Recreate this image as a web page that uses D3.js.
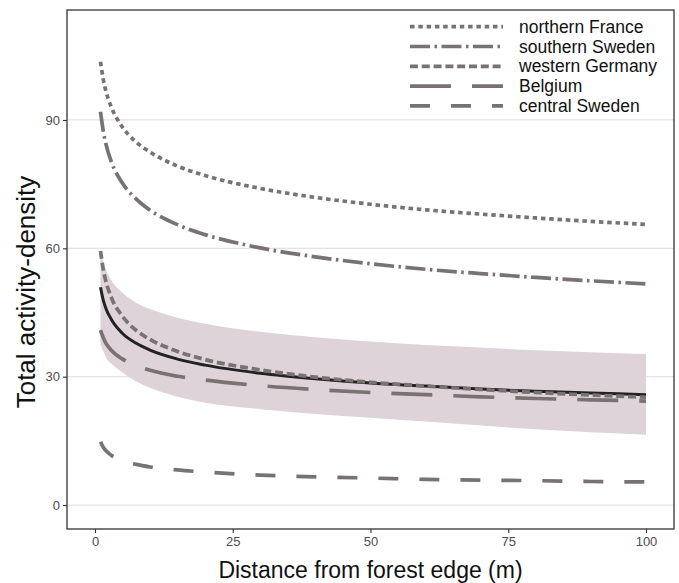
<!DOCTYPE html>
<html>
<head>
<meta charset="utf-8">
<script src="https://cdn.jsdelivr.net/npm/d3@7"></script>
<style>
  html, body { margin: 0; padding: 0; background: #fff; }
  svg { display: block; font-family: "Liberation Sans", Arial, Helvetica, sans-serif; }
</style>
</head>
<body>
<svg id="chart" width="679" height="583"></svg>
<script>
// ---- data ----
const distance = [1, 1.5, 2, 3, 5, 7.5, 10, 15, 20, 30, 40, 50, 60, 70, 80, 90, 100];
const northernFrance = [103.6, 99.5, 96.7, 92.9, 88.3, 84.8, 82.5, 79.2, 77.0, 74.0, 71.9, 70.3, 69.0, 68.0, 67.1, 66.3, 65.6];
const southernSweden = [91.9, 87.4, 84.3, 80.1, 75.2, 71.5, 68.9, 65.5, 63.2, 60.1, 58.0, 56.4, 55.1, 54.1, 53.2, 52.4, 51.7];
const westernGermany = [59.4, 55.1, 52.2, 48.4, 44.1, 40.8, 38.7, 35.9, 34.0, 31.6, 29.9, 28.7, 27.8, 27.0, 26.3, 25.7, 25.2];
const belgium = [40.9, 39.1, 37.8, 36.1, 34.1, 32.6, 31.5, 30.1, 29.2, 27.9, 27.0, 26.3, 25.8, 25.3, 24.9, 24.6, 24.3];
const centralSweden = [14.8, 13.5, 12.7, 11.6, 10.4, 9.5, 8.9, 8.2, 7.7, 7.0, 6.6, 6.3, 6.0, 5.8, 5.7, 5.5, 5.4];
const meanFit = [50.9, 47.9, 45.9, 43.3, 40.1, 37.8, 36.2, 34.1, 32.7, 30.8, 29.5, 28.5, 27.8, 27.1, 26.6, 26.2, 25.8];
const ciUpper = [59.5, 56.8, 55.0, 52.5, 49.6, 47.3, 45.8, 43.8, 42.4, 40.5, 39.2, 38.2, 37.4, 36.8, 36.2, 35.7, 35.3];
const ciLower = [37.5, 36.0, 34.5, 33.0, 31.0, 28.9, 27.4, 25.3, 23.9, 22.4, 21.3, 20.4, 19.5, 18.6, 17.7, 17.0, 16.4];

const regionNames = ["northern France", "southern Sweden", "western Germany", "Belgium", "central Sweden"];
const regionValues = [northernFrance, southernSweden, westernGermany, belgium, centralSweden];
const regionDash = ["4.5,3.8", "20,4.5,2.5,4.5", "8,3.8", "41,21", "20,21"];

const xTicks = [0, 25, 50, 75, 100];
const yTicks = [0, 30, 60, 90];
const xTitle = "Distance from forest edge (m)";
const yTitle = "Total activity-density";

// ---- layout ----
const P = { left: 67, right: 674, top: 10, bottom: 529 };
const svg = d3.select("#chart");
const x = d3.scaleLinear().domain([-5.08, 105.08]).range([P.left, P.right]);
const y = d3.scaleLinear().domain([-5.6, 115.7]).range([P.bottom, P.top]);

const greyLine = "#787273";

// gridlines
svg.append("g").selectAll("line").data(yTicks).join("line")
  .attr("x1", P.left).attr("x2", P.right)
  .attr("y1", d => y(d)).attr("y2", d => y(d))
  .attr("stroke", "#e3e3e3").attr("stroke-width", 1.2);

// ribbon
const area = d3.area()
  .x((d, i) => x(distance[i]))
  .y0((d, i) => y(ciLower[i]))
  .y1((d, i) => y(ciUpper[i]))
  .curve(d3.curveMonotoneX);
svg.append("path").datum(distance).attr("d", area).attr("fill", "#dfd3da");

// mean fit
const lineOf = vals => d3.line()
  .x((d, i) => x(distance[i]))
  .y((d, i) => y(vals[i]))
  .curve(d3.curveMonotoneX)(distance);

svg.append("path").attr("d", lineOf(meanFit))
  .attr("fill", "none").attr("stroke", "#222").attr("stroke-width", 3);

// region lines
regionValues.forEach((vals, k) => {
  svg.append("path").attr("d", lineOf(vals))
    .attr("fill", "none").attr("stroke", greyLine)
    .attr("stroke-width", 3.7)
    .attr("stroke-dasharray", regionDash[k])
    .attr("stroke-linecap", "butt");
});

// panel border
svg.append("rect")
  .attr("x", P.left).attr("y", P.top)
  .attr("width", P.right - P.left).attr("height", P.bottom - P.top)
  .attr("fill", "none").attr("stroke", "#333").attr("stroke-width", 1.3);

// axes
const xAxis = d3.axisBottom(x).tickValues(xTicks).tickSize(4).tickPadding(4);
const yAxis = d3.axisLeft(y).tickValues(yTicks).tickSize(4).tickPadding(3);
const gx = svg.append("g").attr("transform", `translate(0,${P.bottom})`).call(xAxis);
const gy = svg.append("g").attr("transform", `translate(${P.left},0)`).call(yAxis);
[gx, gy].forEach(g => {
  g.select(".domain").remove();
  g.selectAll(".tick line").attr("stroke", "#333").attr("stroke-width", 1.1);
  g.selectAll(".tick text").attr("fill", "#4d4d4d")
    .style("font-size", "13px").style("font-family", "Liberation Sans, Arial, sans-serif");
});

// axis titles
svg.append("text")
  .attr("x", (P.left + P.right) / 2).attr("y", 578)
  .attr("text-anchor", "middle")
  .style("font-size", "23px").attr("fill", "#111")
  .text(xTitle);
svg.append("text")
  .attr("transform", `translate(35,292) rotate(-90)`)
  .attr("text-anchor", "middle")
  .style("font-size", "26px").attr("fill", "#111")
  .text(yTitle);

// legend
const lg = svg.append("g");
const rowY = [26.7, 46.5, 66.3, 86.1, 105.9];
regionNames.forEach((name, k) => {
  lg.append("line")
    .attr("x1", 410).attr("x2", 503)
    .attr("y1", rowY[k]).attr("y2", rowY[k])
    .attr("stroke", greyLine).attr("stroke-width", 3.7)
    .attr("stroke-dasharray", regionDash[k]);
  lg.append("text")
    .attr("x", 519).attr("y", rowY[k])
    .attr("dy", "0.35em")
    .style("font-size", "17.5px").attr("fill", "#111")
    .text(name);
});
</script>
</body>
</html>
